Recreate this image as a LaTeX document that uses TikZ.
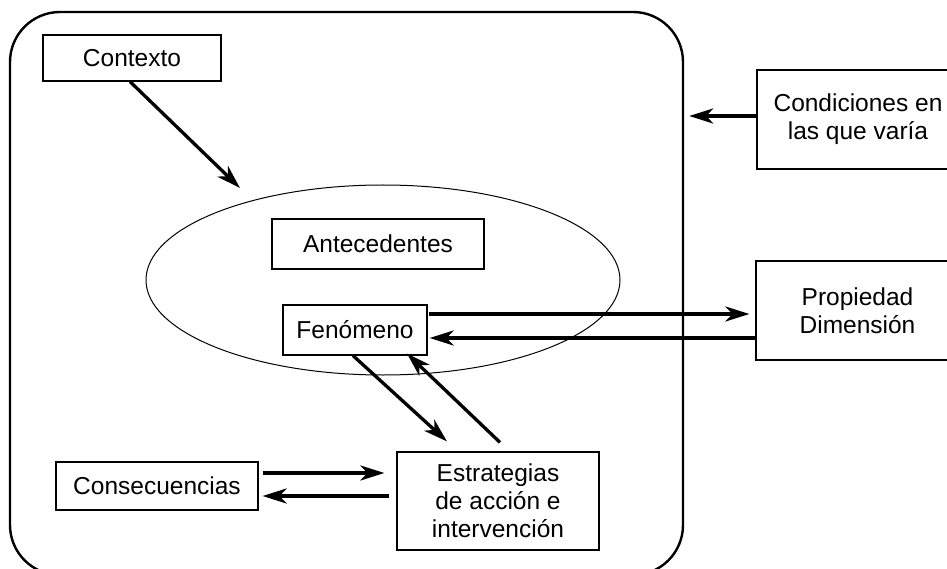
\documentclass[tikz,border=0pt]{standalone}
\usepackage{fontspec}
\setmainfont{Liberation Sans}
\usetikzlibrary{arrows.meta,shapes.geometric,calc}
\tikzset{
  box/.style={draw=black, line width=1.2pt, inner sep=0pt, align=center, font=\fontsize{24.5}{28}\selectfont},
  arr/.style={line width=3.3pt, -{Stealth[length=24pt,width=15pt,inset=7pt]}},
  frame/.style={draw=black, line width=2.4pt, rounded corners=50pt, inner sep=0pt},
}
\begin{document}
\begin{tikzpicture}[x=1pt,y=-1pt]
\useasboundingbox (0,0) rectangle (947,569);
\begin{scope}
\clip (0,0) rectangle (947,569);
\node[frame, minimum width=673pt, minimum height=563pt] (fr) at (346.5,293.5) {};
\node[draw=black, line width=1pt, ellipse, minimum width=474pt, minimum height=190pt, inner sep=0pt] (el) at (383,280) {};
\node[box, minimum width=178pt, minimum height=46pt] (ctx) at (132,58) {Contexto};
\node[box, minimum width=212pt, minimum height=50pt] (ant) at (378,244) {Antecedentes};
\node[box, minimum width=144pt, minimum height=50pt] (fen) at (355,330) {Fenómeno};
\node[box, minimum width=202pt, minimum height=98pt] (est) at (498,501) {Estrategias\\de acción e\\intervención};
\node[box, minimum width=202pt, minimum height=48pt] (con) at (157,486) {Consecuencias};
\node[box, minimum width=202pt, minimum height=99pt] (cond) at (858,119.5) {Condiciones en\\las que varía};
\node[box, minimum width=203pt, minimum height=99pt] (prop) at (857.5,310.5) {Propiedad\\Dimensión};
\coordinate (c1) at (240,188);
\draw[arr] (ctx.south -| 130,0) -- (c1);
\draw[arr, shorten >=5pt] (cond.west |- 0,116) -- (fr.east |- 0,116);
\draw[arr, shorten <=1pt, shorten >=6pt] (fen.east |- 0,314) -- (prop.west |- 0,314);
\draw[arr, shorten >=2pt] (prop.west |- 0,338) -- (fen.east |- 0,338);
\draw[arr] (fen.south -| 353,0) -- ($(est.north -| 447,0)+(0,-10)$);
\draw[arr] ($(est.north -| 500,0)+(0,-9)$) -- ($(fen.south -| 407,0)+(0,-2)$);
\draw[arr, shorten <=4pt, shorten >=12pt] (con.east |- 0,473) -- (est.west |- 0,473);
\draw[arr, shorten <=7pt, shorten >=4pt] (est.west |- 0,496) -- (con.east |- 0,496);
\end{scope}
\end{tikzpicture}
\end{document}
